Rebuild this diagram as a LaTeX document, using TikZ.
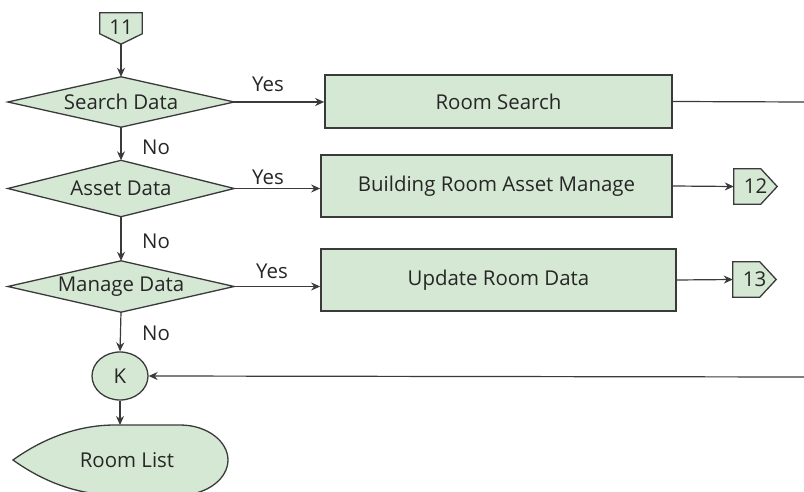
\documentclass[tikz,border=0pt]{standalone}
\usepackage{fontspec}
\setmainfont{Open Sans}
\usetikzlibrary{arrows.meta,calc,shapes.geometric,backgrounds}
\definecolor{boxfill}{HTML}{D5E8D4}
\definecolor{lineclr}{HTML}{3A3A3A}
\begin{document}
\begin{tikzpicture}[x=1bp,y=-1bp,
  txt/.style={font=\fontsize{20.5}{23}\selectfont,text=black!85},
  shapebox/.style={draw=none,inner sep=0pt,txt},
  proc/.style={draw=lineclr,fill=boxfill,line width=1.7bp,inner sep=0pt,txt},
  shp/.style={draw=lineclr,fill=boxfill,line width=1.3bp},
  flow/.style={draw=lineclr,line width=1.2bp,-{Stealth[length=9bp,width=8bp]}},
  plain/.style={draw=lineclr,line width=1.2bp},
  lbl/.style={inner sep=0pt,txt}]
\useasboundingbox (0,0) rectangle (804,492);
\clip (0,0) rectangle (804,492);

% off-page connector 11
\node[shapebox,minimum width=42bp,minimum height=31bp] (c11) at (121,28.5) {\raisebox{2bp}{11}};
% decisions
\node[shapebox,minimum width=226bp,minimum height=50bp] (sd) at (121,102) {Search Data};
\node[shapebox,minimum width=226bp,minimum height=56bp] (ad) at (121,188.5) {Asset Data};
\node[shapebox,minimum width=226bp,minimum height=51bp] (md) at (121,286.5) {Manage Data};
% processes
\node[proc,minimum width=347bp,minimum height=53bp] (rs) at (498.5,101.5) {Room Search};
\node[proc,minimum width=351bp,minimum height=62bp] (ba) at (496.5,186) {Building Room Asset Manage};
\node[proc,minimum width=355bp,minimum height=62bp] (ur) at (498.5,280) {Update Room Data};
% connectors 12, 13
\node[shapebox,minimum width=43bp,minimum height=35bp,text width=27bp,align=center] (c12) at (755.5,186.5) {12};
\node[shapebox,minimum width=43bp,minimum height=35bp,text width=27bp,align=center] (c13) at (754.5,279.5) {13};
% K
\node[shp,ellipse,minimum width=56bp,minimum height=48bp,inner sep=0pt,txt] (k) at (120,376) {K};
% Room List
\node[lbl] (rl) at (127,460) {Room List};
\coordinate (rltop) at (120,425);
\coordinate (rsend) at (804,102);
\coordinate (kin) at (804,377);

\begin{pgfonlayer}{background}
  \draw[shp] (c11.north west) -- (c11.north east) -- ($(c11.north east)+(0,21)$) -- (c11.south) -- ($(c11.north west)+(0,21)$) -- cycle;
  \foreach \d in {sd,ad,md}
    \draw[shp] (\d.west) -- (\d.north) -- (\d.east) -- (\d.south) -- cycle;
  \foreach \c in {c12,c13}
    \draw[shp] (\c.north west) -- ($(\c.north west)+(27,0)$) -- (\c.east) -- ($(\c.south west)+(27,0)$) -- (\c.south west) -- cycle;
  \draw[shp] (13,460) .. controls (45,437) and (80,425) .. (115,425) -- (180,425)
    .. controls (208,425) and (228,442) .. (228,460)
    .. controls (228,478) and (208,495) .. (180,495) -- (115,495)
    .. controls (80,495) and (45,483) .. (13,460) -- cycle;
\end{pgfonlayer}

% flow
\draw[flow] (c11.south) -- (sd.north);
\draw[flow] (sd.south) -- (ad.north);
\draw[flow] (ad.south) -- (md.north);
\draw[flow] (md.south) -- (k.north);
\draw[flow] (k.south) -- (rltop);
\draw[flow] (sd.east) -- (sd.east -| rs.west);
\draw[flow] (ad.east) -- (ad.east -| ba.west);
\draw[flow] (md.east) -- (md.east -| ur.west);
\draw[plain] (rs.east) -- (rsend);
\draw[flow] (ba.east) -- (c12.west);
\draw[flow] (ur.east) -- (c13.west);
\draw[flow] (kin) -- (k.east);

% labels
\node[lbl] (y1) at (268,84) {Yes};
\node[lbl] (y2) at (268,177) {Yes};
\node[lbl] (y3) at (272,271) {Yes};
\node[lbl] (n1) at (156,147) {No};
\node[lbl] (n2) at (156,241) {No};
\node[lbl] (n3) at (156,333) {No};
\end{tikzpicture}
\end{document}
